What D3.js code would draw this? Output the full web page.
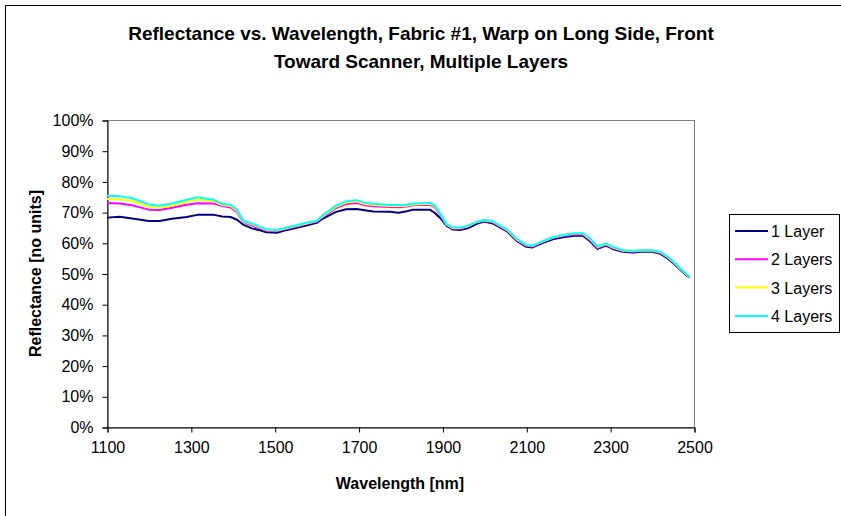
<!DOCTYPE html>
<html>
<head>
<meta charset="utf-8">
<script src="https://cdn.jsdelivr.net/npm/d3@7"></script>
<style>
  body { margin: 0; background: #fff; }
  text { font-family: "Liberation Sans", Arial, sans-serif; }
</style>
</head>
<body>
<div id="my_dataviz"></div>
<script>
// wavelength knots (nm) shared by every series
var wavelengths = [1100,1130,1160,1200,1225,1255,1290,1315,1355,1375,1395,1410,1425,1445,1465,1480,1505,1530,1575,1600,
  1615,1645,1670,1695,1715,1735,1775,1795,1815,1830,1870,1882,1895,1910,1925,1942,1960,1982,2000,2020,
  2055,2078,2100,2115,2140,2165,2195,2215,2235,2252,2270,2290,2306,2330,2354,2375,2400,2420,2436,2450,
  2466,2483,2490];

var layer1 = [0.682,0.685,0.679,0.671,0.671,0.678,0.684,0.691,0.691,0.686,0.684,0.675,0.659,0.647,0.641,0.634,0.633,0.642,0.656,0.665,
  0.679,0.700,0.709,0.710,0.706,0.702,0.701,0.698,0.703,0.708,0.708,0.697,0.680,0.655,0.643,0.642,0.647,0.662,0.669,0.663,
  0.636,0.605,0.587,0.585,0.600,0.612,0.620,0.623,0.623,0.605,0.580,0.591,0.580,0.571,0.568,0.571,0.571,0.564,0.550,0.534,
  0.514,0.493,0.486];

var layer2 = [0.730,0.728,0.722,0.708,0.707,0.714,0.724,0.729,0.728,0.720,0.715,0.700,0.668,0.656,0.647,0.640,0.638,0.646,0.661,0.669,
  0.684,0.712,0.726,0.730,0.722,0.719,0.717,0.716,0.718,0.722,0.724,0.716,0.690,0.658,0.646,0.646,0.652,0.667,0.672,0.667,
  0.639,0.608,0.590,0.588,0.603,0.616,0.624,0.627,0.627,0.609,0.583,0.594,0.583,0.573,0.571,0.573,0.573,0.567,0.553,0.537,
  0.516,0.495,0.487];

var layer3 = [0.743,0.742,0.736,0.717,0.714,0.721,0.733,0.741,0.735,0.723,0.720,0.704,0.670,0.660,0.650,0.642,0.640,0.648,0.663,0.671,
  0.687,0.716,0.731,0.735,0.726,0.723,0.720,0.720,0.721,0.725,0.727,0.719,0.692,0.659,0.648,0.648,0.654,0.668,0.673,0.669,
  0.641,0.610,0.592,0.590,0.605,0.618,0.626,0.630,0.630,0.612,0.586,0.596,0.585,0.575,0.573,0.575,0.575,0.569,0.555,0.539,
  0.517,0.496,0.488];

var layer4 = [0.753,0.752,0.745,0.725,0.721,0.728,0.740,0.748,0.740,0.726,0.724,0.708,0.672,0.663,0.652,0.644,0.642,0.650,0.665,0.672,
  0.690,0.720,0.735,0.739,0.730,0.727,0.723,0.723,0.724,0.728,0.730,0.722,0.695,0.660,0.650,0.650,0.655,0.668,0.674,0.670,
  0.642,0.612,0.593,0.591,0.606,0.619,0.627,0.631,0.631,0.614,0.588,0.598,0.587,0.576,0.574,0.576,0.576,0.570,0.556,0.540,
  0.518,0.497,0.489];

var seriesNames = ["1 Layer", "2 Layers", "3 Layers", "4 Layers"];
var xTicks = [1100, 1300, 1500, 1700, 1900, 2100, 2300, 2500];
var yTicks = [0, 0.1, 0.2, 0.3, 0.4, 0.5, 0.6, 0.7, 0.8, 0.9, 1.0];

var allSeries = [layer1, layer2, layer3, layer4];
var colors = ["#000080", "#ff00ff", "#ffff00", "#00ffff"];

var W = 841, H = 516;
var plot = { left: 107, top: 120, right: 694, bottom: 427 };

var svg = d3.select('#my_dataviz')
    .append('svg')
    .attr('width', W)
    .attr('height', H);

// chart frame
svg.append("rect")
    .attr("x", 5.5).attr("y", 5.5)
    .attr("width", 840).attr("height", 515)
    .attr("fill", "#fff")
    .attr("stroke", "#000")
    .attr("stroke-width", 1);

var x = d3.scaleLinear().domain([1100, 2500]).range([plot.left, plot.right]);
var y = d3.scaleLinear().domain([0, 1]).range([plot.bottom, plot.top]);

// plot area border
svg.append("rect")
    .attr("x", plot.left + 0.5).attr("y", plot.top + 0.5)
    .attr("width", plot.right - plot.left).attr("height", plot.bottom - plot.top)
    .attr("fill", "none")
    .attr("stroke", "#808080");

// y axis
var yAxis = svg.append("g")
    .attr("transform", "translate(" + (plot.left + 0.5) + ",0.5)")
    .call(d3.axisLeft(y).tickValues(yTicks).tickSize(5).tickPadding(9).tickFormat(d3.format(".0%")));
yAxis.select(".domain").attr("stroke", "#000");
yAxis.selectAll("text").style("font-size", "16px").attr("fill", "#000");

// x axis
var xAxis = svg.append("g")
    .attr("transform", "translate(0.5," + (plot.bottom + 0.5) + ")")
    .call(d3.axisBottom(x).tickValues(xTicks).tickSize(5).tickPadding(9).tickFormat(d3.format("d")));
xAxis.selectAll("text").style("font-size", "16px").attr("fill", "#000");

// series lines
var line = d3.line()
    .x(function(d, i){ return x(wavelengths[i]); })
    .y(function(d){ return y(d); });

allSeries.forEach(function(s, k){
    svg.append("path")
        .attr("fill", "none")
        .attr("stroke", colors[k])
        .attr("stroke-width", 2)
        .attr("stroke-linejoin", "round")
        .attr("d", line(s));
});

// titles
var title = svg.append("text")
    .attr("x", 421)
    .attr("text-anchor", "middle")
    .style("font-weight", "bold")
    .style("font-size", "19px");
title.append("tspan").attr("x", 421).attr("y", 40).text("Reflectance vs. Wavelength, Fabric #1, Warp on Long Side, Front");
title.append("tspan").attr("x", 421).attr("y", 68).text("Toward Scanner, Multiple Layers");

svg.append("text")
    .attr("x", 400)
    .attr("y", 489)
    .attr("text-anchor", "middle")
    .style("font-weight", "bold")
    .style("font-size", "16px")
    .text("Wavelength [nm]");

svg.append("text")
    .attr("transform", "translate(41," + ((plot.top + plot.bottom) / 2) + ") rotate(-90)")
    .attr("text-anchor", "middle")
    .style("font-weight", "bold")
    .style("font-size", "16px")
    .text("Reflectance [no units]");

// legend
var legend = svg.append("g");
legend.append("rect")
    .attr("x", 729.5).attr("y", 214.5)
    .attr("width", 110).attr("height", 118)
    .attr("fill", "#fff")
    .attr("stroke", "#000");

seriesNames.forEach(function(name, k){
    var ly = 231 + k * 28.3;
    legend.append("line")
        .attr("x1", 735).attr("x2", 768)
        .attr("y1", ly).attr("y2", ly)
        .attr("stroke", colors[k])
        .attr("stroke-width", 2);
    legend.append("text")
        .attr("x", 771)
        .attr("y", ly + 6)
        .style("font-size", "16px")
        .text(name);
});
</script>
</body>
</html>
